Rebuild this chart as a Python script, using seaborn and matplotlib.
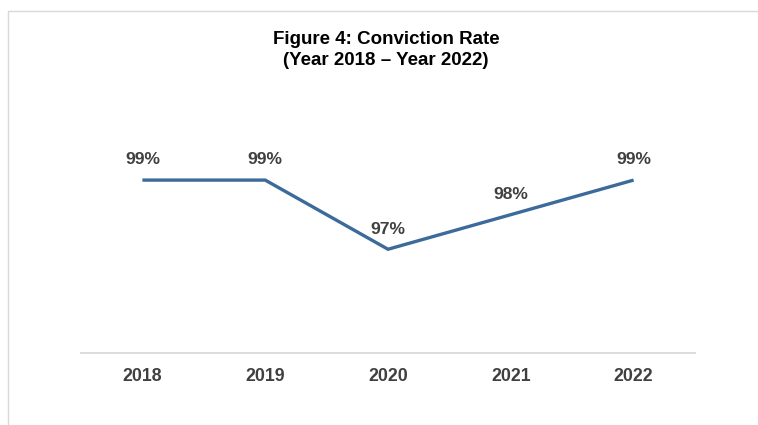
import matplotlib
matplotlib.use("Agg")
import matplotlib.pyplot as plt
import seaborn as sns
import pandas as pd
from matplotlib.lines import Line2D

# Conviction rate by year (%)
years = ["2018", "2019", "2020", "2021", "2022"]
rates = [99, 99, 97, 98, 99]
point_labels = ["99%", "99%", "97%", "98%", "99%"]

title_text = "Figure 4: Conviction Rate\n(Year 2018 \u2013 Year 2022)"

sns.set_theme(style="white")
plt.rcParams["font.family"] = ["Liberation Sans", "DejaVu Sans"]

W, H, DPI = 758, 425, 100
fig = plt.figure(figsize=(W / DPI, H / DPI), dpi=DPI)
fig.patch.set_facecolor("white")

# plot area in pixel coordinates
left_px, right_px = 81, 695
bottom_px, top_px = 353, 145.5
ax = fig.add_axes([left_px / W, 1 - bottom_px / H,
                   (right_px - left_px) / W, (bottom_px - top_px) / H])

df = pd.DataFrame({"year": years, "rate": rates})
pos = list(range(len(years)))
sns.lineplot(x=pos, y=df["rate"], ax=ax, color="#3B6A9B", linewidth=2.4,
             solid_capstyle="butt", solid_joinstyle="miter")

ax.set_xlim(-0.5, len(years) - 0.5)
ax.set_ylim(94, 100)
ax.set_xticks(pos)
ax.set_xticklabels(years, fontsize=12.8, fontweight="bold", color="#404040")
ax.tick_params(axis="x", length=0, pad=11)
ax.set_yticks([])
ax.set_xlabel("")
ax.set_ylabel("")

for s in ["top", "right", "left"]:
    ax.spines[s].set_visible(False)
ax.spines["bottom"].set_color("#D9D9D9")
ax.spines["bottom"].set_linewidth(1.3)

for x, y, lab in zip(pos, df["rate"], point_labels):
    ax.annotate(lab, (x, y), xytext=(0, 14.5), textcoords="offset points",
                ha="center", va="center", fontsize=12.6, fontweight="bold",
                color="#404040")

fig.text(386 / W, 1 - 50 / H, title_text, ha="center", va="center",
         fontsize=13.5, fontweight="bold", color="#000000", linespacing=1.25)

# light frame along the top and left edges
fig.add_artist(Line2D([8 / W, 1.0], [1 - 11 / H, 1 - 11 / H],
                      transform=fig.transFigure, color="#D9D9D9", linewidth=1))
fig.add_artist(Line2D([8 / W, 8 / W], [0.0, 1 - 11 / H],
                      transform=fig.transFigure, color="#D9D9D9", linewidth=1))

fig.savefig("out.png", dpi=DPI)
